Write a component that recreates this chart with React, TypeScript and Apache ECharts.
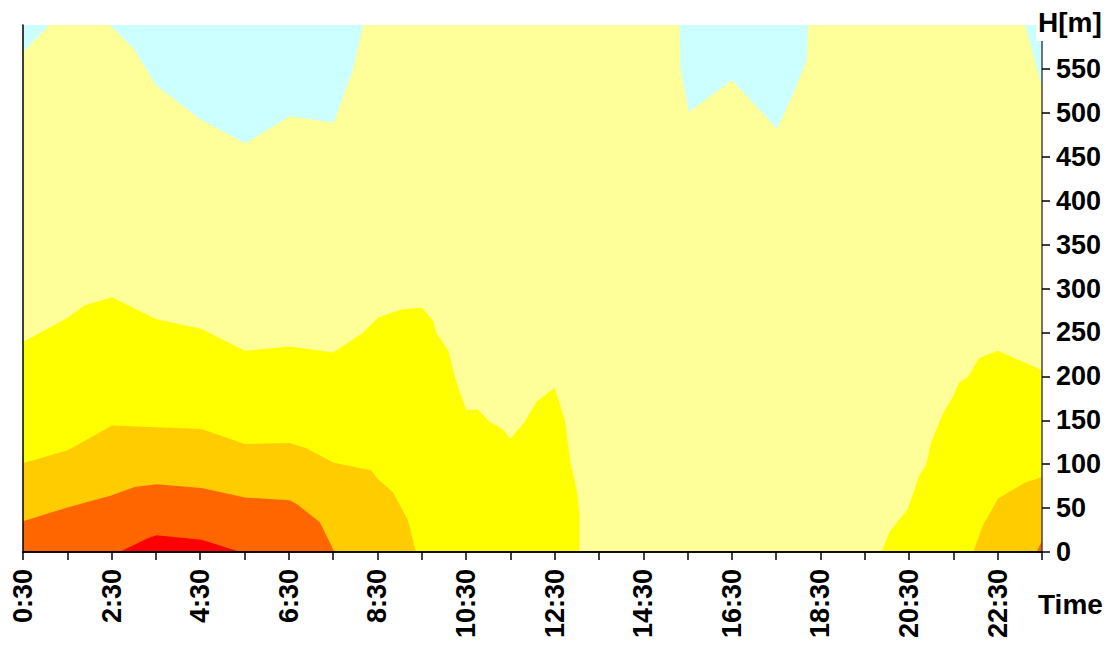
import React, { useEffect, useRef } from "react";
import * as echarts from "echarts";

// Contour boundaries: [clock time in hours, height in m].
// Each band fills from the ground up to its boundary; later bands are drawn on top.
const lightYellowTop: [number, number][] = [
  [0.5, 569], [1.1, 600], [2.46, 600], [3.0, 573], [3.51, 531], [4.34, 499], [4.49, 493],
  [5.51, 465], [6.52, 496], [7.52, 489], [7.95, 550], [8.18, 600], [15.32, 600], [15.34, 550],
  [15.53, 501], [16.5, 537], [17.52, 482], [17.93, 527], [18.19, 560], [18.22, 600],
  [23.12, 600], [23.5, 529],
];

const yellowTop: [number, number][] = [
  [0.5, 239], [1.52, 267], [1.89, 281], [2.51, 290], [3.51, 265], [4.53, 254], [5.51, 229],
  [6.52, 234], [7.5, 227], [8.18, 250], [8.52, 267], [9.04, 276], [9.51, 278], [9.77, 262],
  [9.82, 250], [10.1, 229], [10.25, 199], [10.5, 162], [10.77, 162], [11.02, 149],
  [11.32, 140], [11.5, 129], [11.83, 149], [12.09, 171], [12.5, 187], [12.73, 150],
  [12.86, 101], [13.0, 70], [13.06, 44], [13.06, 0], [19.88, 0], [20.06, 23], [20.47, 49],
  [20.73, 87], [20.88, 99], [21.0, 125], [21.26, 157], [21.48, 176], [21.63, 193],
  [21.82, 199], [22.08, 221], [22.5, 229], [23.5, 207],
];

const orangeTop: [number, number][] = [
  [0.5, 101], [1.52, 116], [2.51, 144], [3.51, 142], [4.53, 140], [5.51, 123], [6.52, 124],
  [6.9, 118], [7.5, 102], [8.35, 93], [8.53, 82], [8.85, 68], [9.19, 36], [9.37, 0],
  [21.95, 0], [22.16, 30], [22.51, 61], [23.12, 79], [23.5, 85],
];

const darkOrangeTop: [number, number][] = [
  [0.5, 35], [1.52, 51], [2.51, 64.5], [3.02, 74], [3.51, 77], [4.53, 73], [5.51, 62],
  [6.52, 59], [6.67, 55], [7.2, 34], [7.53, 0], [23.38, 0], [23.5, 13],
];

const redTop: [number, number][] = [
  [0.5, 0], [2.68, 0], [3.29, 15], [3.51, 19], [4.53, 14], [5.4, 0], [23.5, 0],
];

const bands = [
  { name: "lightYellow", color: "#FFFF99", data: lightYellowTop },
  { name: "yellow", color: "#FFFF00", data: yellowTop },
  { name: "orange", color: "#FFCC00", data: orangeTop },
  { name: "darkOrange", color: "#FF6600", data: darkOrangeTop },
  { name: "red", color: "#FF0000", data: redTop },
];

const upperColor = "#CCFFFF";
const heightTicks = { min: 0, max: 600, step: 50 };
const timeRange = { min: 0.5, max: 23.5, step: 1 };

const FONT = "'Liberation Sans', Arial, sans-serif";

export default function App() {
  const ref = useRef<HTMLDivElement>(null);

  useEffect(() => {
    if (!ref.current) return;
    const chart = echarts.init(ref.current, undefined, { renderer: "svg" });

    const labelStyle = {
      fontFamily: FONT,
      fontWeight: "bold" as const,
      fontSize: 27,
      color: "#000",
    };

    chart.setOption({
      animation: false,
      grid: {
        left: 23,
        right: 69,
        top: 25,
        bottom: 93,
        show: true,
        backgroundColor: upperColor,
        borderWidth: 0,
      },
      xAxis: [
        {
          type: "value",
          min: timeRange.min,
          max: timeRange.max,
          interval: timeRange.step,
          z: 10,
          axisLine: { show: true, lineStyle: { color: "#000", width: 1.5 } },
          axisTick: { show: true, length: 8, lineStyle: { color: "#000", width: 1.5 } },
          splitLine: { show: false },
          axisLabel: {
            ...labelStyle,
            rotate: 90,
            margin: 17,
            interval: 0,
            showMinLabel: true,
            showMaxLabel: true,
            formatter: (v: number) => {
              const h = Math.floor(v + 1e-6);
              return h % 2 === 0 && h <= 22 ? `${h}:30` : "";
            },
          },
        },
        {
          type: "value",
          position: "top",
          min: timeRange.min,
          max: timeRange.max,
          z: 10,
          axisLine: { show: true, lineStyle: { color: "#000", width: 1.5 } },
          axisTick: { show: false },
          axisLabel: { show: false },
          splitLine: { show: false },
        },
      ],
      yAxis: [
        {
          type: "value",
          position: "right",
          min: heightTicks.min,
          max: heightTicks.max,
          interval: heightTicks.step,
          z: 10,
          axisLine: { show: true, lineStyle: { color: "#444", width: 1.5 } },
          axisTick: { show: true, length: 8, lineStyle: { color: "#000", width: 1.5 } },
          splitLine: { show: false },
          axisLabel: {
            ...labelStyle,
            margin: 14,
            formatter: (v: number) => (v >= heightTicks.max ? "" : String(v)),
          },
        },
        {
          type: "value",
          position: "left",
          min: heightTicks.min,
          max: heightTicks.max,
          z: 10,
          axisLine: { show: true, lineStyle: { color: "#000", width: 1.5 } },
          axisTick: { show: false },
          axisLabel: { show: false },
          splitLine: { show: false },
        },
      ],
      graphic: [
        {
          type: "text",
          z: 100,
          x: 1036,
          y: 22,
          style: {
            text: "H[m]",
            font: `bold 28px ${FONT}`,
            fill: "#000",
            textVerticalAlign: "middle",
            backgroundColor: "#fff",
            padding: [4, 2, 6, 2],
          },
        },
        {
          type: "text",
          z: 100,
          x: 1038,
          y: 604,
          style: {
            text: "Time",
            font: `bold 28px ${FONT}`,
            fill: "#000",
            textVerticalAlign: "middle",
          },
        },
      ],
      series: bands.map((b) => ({
        name: b.name,
        type: "line",
        xAxisIndex: 0,
        yAxisIndex: 0,
        data: b.data,
        symbol: "none",
        silent: true,
        lineStyle: { width: 0 },
        areaStyle: { color: b.color, opacity: 1, origin: "start" },
      })),
    });

    return () => chart.dispose();
  }, []);

  return (
    <div
      ref={ref}
      style={{ position: "fixed", left: 0, top: 0, width: 1111, height: 645, background: "#fff" }}
    />
  );
}
